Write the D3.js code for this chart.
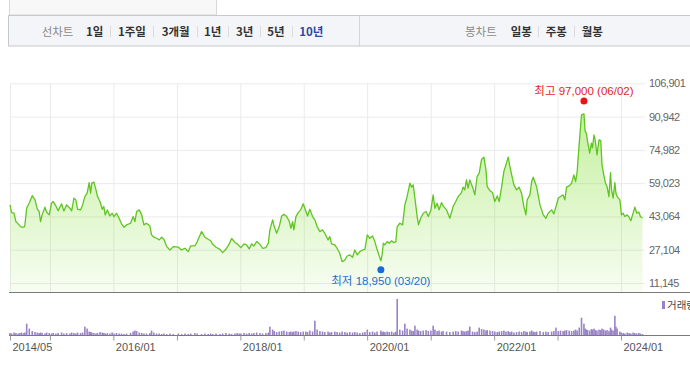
<!DOCTYPE html>
<html>
<head>
<meta charset="utf-8">
<script src="https://d3js.org/d3.v7.min.js"></script>
<style>
body { margin: 0; background: #fff; }
svg { display: block; font-family: "Liberation Sans", "Noto Sans CJK KR", sans-serif; }
</style>
</head>
<body>
<svg width="690" height="368"></svg>
<script>
// weekly-ish closes
var dates = [
  "2014-05-16","2014-05-25","2014-06-08","2014-06-19","2014-07-02","2014-07-12","2014-07-22","2014-08-04","2014-08-10","2014-08-20",
  "2014-09-04","2014-09-21","2014-10-07","2014-10-20","2014-10-31","2014-11-08","2014-11-17","2014-12-03","2014-12-13","2014-12-28",
  "2015-01-10","2015-01-20","2015-02-04","2015-02-17","2015-03-09","2015-03-22","2015-04-07","2015-04-26","2015-05-06","2015-05-19",
  "2015-05-30","2015-06-09","2015-06-26","2015-07-08","2015-07-21","2015-08-03","2015-08-15","2015-08-23","2015-08-30","2015-09-11",
  "2015-09-23","2015-10-02","2015-10-16","2015-10-29","2015-11-07","2015-11-15","2015-11-27","2015-12-12","2015-12-25",
  "2016-01-05","2016-01-19","2016-02-03","2016-02-17","2016-03-02","2016-03-17","2016-04-09","2016-04-24","2016-05-04","2016-05-14",
  "2016-05-29","2016-06-12","2016-06-25","2016-07-10","2016-07-29","2016-08-08","2016-08-21","2016-09-06","2016-09-21","2016-10-05",
  "2016-10-18","2016-11-03","2016-11-22","2016-12-11",
  "2017-01-09","2017-01-28","2017-02-16","2017-03-07","2017-03-21","2017-04-14","2017-04-28","2017-05-23","2017-06-11","2017-06-30",
  "2017-07-14","2017-07-26","2017-08-14","2017-09-06","2017-09-21","2017-10-10","2017-10-29","2017-11-12","2017-12-01","2017-12-14",
  "2017-12-26",
  "2018-01-04","2018-01-22","2018-02-06","2018-02-21","2018-03-07","2018-03-20","2018-04-05","2018-04-24","2018-05-09","2018-05-28",
  "2018-06-11","2018-06-20","2018-07-06","2018-07-15","2018-07-29","2018-08-13","2018-08-27","2018-09-09","2018-09-25","2018-10-10",
  "2018-10-19","2018-10-29","2018-11-05","2018-11-17","2018-11-30","2018-12-14","2018-12-29",
  "2019-01-13","2019-01-23","2019-02-05","2019-02-21","2019-03-06","2019-03-19","2019-04-04","2019-04-19","2019-05-02","2019-05-21",
  "2019-05-31","2019-06-10","2019-06-29","2019-07-12","2019-07-27","2019-08-10","2019-08-26","2019-09-08","2019-09-23","2019-10-09",
  "2019-10-22","2019-11-05","2019-11-20","2019-12-06","2019-12-19",
  "2020-01-02","2020-01-16","2020-02-01","2020-02-14","2020-02-27","2020-03-20","2020-03-27","2020-04-03","2020-04-12","2020-04-25",
  "2020-05-07","2020-05-21","2020-06-03","2020-06-14","2020-06-22","2020-07-07","2020-07-23","2020-08-05","2020-08-18","2020-09-03",
  "2020-09-13","2020-09-22","2020-10-02","2020-10-15","2020-10-23","2020-11-04","2020-11-19","2020-12-05","2020-12-18",
  "2021-01-02","2021-01-15","2021-01-25","2021-02-07","2021-02-18","2021-03-04","2021-03-13","2021-04-02","2021-04-21","2021-05-10",
  "2021-05-25","2021-06-08","2021-06-27","2021-07-06","2021-07-16","2021-07-26","2021-08-04","2021-08-14","2021-08-30","2021-09-12",
  "2021-09-25","2021-10-07","2021-10-21","2021-11-03","2021-11-15","2021-11-22","2021-12-08","2021-12-23",
  "2022-01-05","2022-01-19","2022-01-30","2022-02-13","2022-02-26","2022-03-10","2022-03-23","2022-04-02","2022-04-12","2022-04-25",
  "2022-05-10","2022-05-25","2022-06-08","2022-06-21","2022-07-03","2022-07-10","2022-07-26","2022-08-05","2022-08-14","2022-08-24",
  "2022-09-03","2022-09-22","2022-10-11","2022-10-26","2022-11-08","2022-11-28","2022-12-11","2022-12-23",
  "2023-01-05","2023-01-18","2023-02-02","2023-02-12","2023-02-22","2023-03-09","2023-03-23","2023-04-05","2023-04-15","2023-04-24",
  "2023-05-06","2023-05-19","2023-06-02","2023-06-09","2023-06-16","2023-06-23","2023-07-05","2023-07-15","2023-07-21","2023-07-30",
  "2023-08-07","2023-08-16","2023-08-28","2023-09-07","2023-09-14","2023-09-24","2023-10-04","2023-10-13","2023-10-24","2023-11-02",
  "2023-11-08","2023-11-17","2023-11-27","2023-12-03","2023-12-10","2023-12-26",
  "2024-01-04","2024-01-14","2024-01-23","2024-02-06","2024-02-17","2024-02-27","2024-03-11","2024-03-21","2024-04-01","2024-04-13",
  "2024-04-22","2024-05-04"
];

var prices = [
  // 2014
  48600,44900,44700,40600,39500,38500,37900,37900,39000,47100,
  49500,53000,51000,46700,45400,40600,43800,47500,45100,43800,
  // 2015
  49400,50200,48100,45800,49100,45700,48600,47000,45700,51800,
  51000,46500,46200,48600,52600,54200,59300,54200,59000,59500,
  55800,52600,50200,46500,47800,43800,46200,43300,44600,
  // 2016
  43000,44600,42200,39500,37900,39000,39800,43000,40600,45400,
  46200,43800,39000,39800,38500,34200,33100,32600,31800,33100,
  32100,28600,27000,28600,
  // 2017
  28300,27000,27800,26200,28900,28900,31000,35800,33100,32100,
  31400,29700,28300,27300,25700,27300,29900,32500,30600,29900,
  28900,
  // 2018
  28100,29900,29400,27500,29900,28900,31000,29700,27800,28100,
  30200,36600,41400,38200,35000,38200,43300,44100,43000,40600,
  37400,40600,36600,43000,44900,46200,49100,
  // 2019
  45700,43300,46500,43000,41400,38200,35800,36600,35000,31800,
  33400,29900,29400,27800,25400,21400,22200,24100,24600,23500,
  27000,24600,26200,27000,27300,
  // 2020
  34200,32600,33700,31000,27300,21800,24600,30200,29400,31000,
  30200,31400,30500,31000,38200,39800,39000,48600,52600,59000,
  57100,58200,51800,43000,39000,42200,44600,45400,43000,
  // 2021
  46200,53400,47000,49400,46200,49700,48100,46200,42200,47800,
  50200,52600,54500,57100,55800,60600,56600,60600,57100,53400,
  62200,63800,70500,71500,65400,57400,55400,54500,
  // 2022
  50200,52900,50200,57100,64600,67800,71500,67000,63000,58200,
  55800,57100,54200,47800,43800,51000,53400,59800,61900,59600,
  57100,48600,43800,42200,44600,46200,44300,47800,
  // 2023
  51800,52600,53400,51000,57100,57700,59000,63000,59800,64600,
  78200,91800,92300,83800,83000,79000,73400,78200,75900,82200,
  79000,72600,79800,79400,67800,63000,59000,57400,52600,64100,
  55800,51800,59300,54300,52600,51000,
  // 2024
  43800,44600,43000,43800,42700,41000,44600,47500,44600,45200,
  43000,42300
];

// volume, thousand shares
var volumes = [
  250,200,300,250,200,250,300,250,300,1200,700,450,350,300,250,300,250,200,300,250,
  200,250,200,250,300,200,250,200,300,250,200,300,250,300,900,700,400,350,300,250,200,250,350,300,250,200,250,200,300,
  200,250,200,200,150,200,250,400,500,450,300,250,200,200,250,500,300,200,200,150,200,150,200,150,
  200,150,200,150,200,250,200,150,200,150,200,150,200,150,200,250,200,150,200,250,200,
  200,250,200,250,200,250,300,250,200,250,300,900,600,450,350,400,450,500,400,350,400,350,400,450,400,350,400,
  400,350,500,400,1500,600,450,400,350,400,300,350,400,350,300,400,350,300,350,300,350,300,250,300,350,
  600,350,400,300,400,500,350,400,350,400,350,400,300,400,3700,600,500,1200,700,600,500,450,1000,600,500,450,500,550,450,
  500,1000,600,450,500,400,450,400,350,400,450,400,500,450,400,450,500,900,400,350,400,800,650,600,500,550,500,450,
  400,350,400,450,500,400,450,350,400,300,350,400,350,450,400,350,400,500,400,350,400,450,350,400,350,400,450,800,
  450,500,450,500,550,500,450,500,600,500,800,1800,1200,700,600,550,500,650,600,700,550,500,600,550,700,600,500,550,450,800,600,500,2000,900,700,400,
  300,250,200,300,250,200,300,250,200,250,200,150
];

var priceTicks = [11145, 27104, 43064, 59023, 74982, 90942, 106901];
var yearTicks = ["2015-01-01","2016-01-01","2017-01-01","2018-01-01","2019-01-01","2020-01-01","2021-01-01","2022-01-01","2023-01-01","2024-01-01"];
var xLabelDates = ["2014-05-16","2016-01-01","2018-01-01","2020-01-01","2022-01-01","2024-01-01"];
var xLabels = ["2014/05","2016/01","2018/01","2020/01","2022/01","2024/01"];
var highPoint = ["2023-06-02", 97000, "최고 97,000 (06/02)"];
var lowPoint = ["2020-03-20", 18950, "최저 18,950 (03/20)"];
var lineTabs = ["1일","1주일","3개월","1년","3년","5년","10년"];
var candleTabs = ["일봉","주봉","월봉"];

var svg = d3.select("svg"),
  width = +svg.attr("width"),
  height = +svg.attr("height");

var parseDate = d3.timeParse("%Y-%m-%d");
var data = dates.map(function(d, i) {
  return {date: parseDate(d), price: prices[i], volume: volumes[i] || 0};
});

// layout
var plotLeft = 10, plotRight = 643, gridRight = 645,
  plotTop = 83.3, priceBase = 292, volBase = 335.5, volTop = 299;

var x = d3.scaleTime()
  .domain([parseDate("2014-05-16"), parseDate("2024-05-07")])
  .range([plotLeft, plotRight]);
var y = d3.scaleLinear()
  .domain([11145, 106901])
  .range([283, plotTop]);
var yv = d3.scaleLinear()
  .domain([0, 3700])
  .range([volBase, volTop]);

// ---- top strip and toolbar
svg.append("rect")
  .attr("x", 9.5).attr("y", -1).attr("width", 207).attr("height", 16)
  .attr("fill", "#f8f8f8").attr("stroke", "#d8d8d8");

svg.append("rect")
  .attr("x", 8.5).attr("y", 15.5).attr("width", 700).attr("height", 30.5)
  .attr("fill", "#f4f5f8").attr("stroke", "#c8c8c8");
svg.append("line")
  .attr("x1", 359.5).attr("x2", 359.5).attr("y1", 16).attr("y2", 46)
  .attr("stroke", "#d4d4d4");

// tab positions in the toolbar (left edge of each word, separators between)
function drawTabs(title, titleX, tabs, tabX, sepX, activeIdx) {
  var g = svg.append("g")
    .style("font-family", "'Noto Sans CJK KR', sans-serif")
    .style("font-size", "11.5px");
  g.append("text")
    .attr("x", titleX).attr("y", 35.5)
    .attr("fill", "#8a8a8a")
    .text(title);
  g.selectAll(".tab")
    .data(tabs)
    .enter()
    .append("text")
    .attr("class", "tab")
    .attr("x", function(d, i) { return tabX[i]; })
    .attr("y", 35.5)
    .attr("fill", function(d, i) { return i === activeIdx ? "#2b48a6" : "#333"; })
    .style("font-weight", "bold")
    .text(function(d) { return d; });
  g.selectAll(".sep")
    .data(sepX)
    .enter()
    .append("line")
    .attr("x1", function(d) { return Math.round(d) + 0.5; })
    .attr("x2", function(d) { return Math.round(d) + 0.5; })
    .attr("y1", 26).attr("y2", 37)
    .attr("stroke", "#dcdcdc");
}
drawTabs("선차트", 41.7, lineTabs,
  [86, 118, 161.7, 204, 236, 267.3, 299.3],
  [110, 153.3, 196.7, 228.3, 260, 291.7], lineTabs.length - 1);
drawTabs("봉차트", 465, candleTabs, [510.7, 545.7, 581.7], [538.3, 574.3], -1);

// ---- gradient for the area
var grad = svg.append("defs").append("linearGradient")
  .attr("id", "areaFill")
  .attr("gradientUnits", "userSpaceOnUse")
  .attr("x1", 0).attr("x2", 0)
  .attr("y1", plotTop).attr("y2", priceBase);
grad.append("stop").attr("offset", 0).attr("stop-color", "#64d700").attr("stop-opacity", 0.43);
grad.append("stop").attr("offset", 1).attr("stop-color", "#64d700").attr("stop-opacity", 0.05);

// ---- grid
var gridDates = [x.domain()[0]].concat(yearTicks.map(parseDate));

svg.append("g")
  .attr("transform", "translate(" + plotLeft + ",0)")
  .call(d3.axisLeft(y).tickValues(priceTicks).tickSize(-(gridRight - plotLeft)).tickFormat(""))
  .call(function(g) { g.select(".domain").remove(); })
  .selectAll("line").attr("stroke", "#ebebeb");

svg.append("g")
  .attr("transform", "translate(0," + priceBase + ")")
  .call(d3.axisBottom(x).tickValues(gridDates).tickSize(-(priceBase - plotTop)).tickFormat(""))
  .call(function(g) { g.select(".domain").remove(); })
  .selectAll("line").attr("stroke", "#ebebeb");

// ---- price area + line
svg.append("path")
  .datum(data)
  .attr("fill", "url(#areaFill)")
  .attr("d", d3.area()
    .x(function(d) { return x(d.date); })
    .y0(priceBase)
    .y1(function(d) { return y(d.price); }));

svg.append("path")
  .datum(data)
  .attr("fill", "none")
  .attr("stroke", "#5fc521")
  .attr("stroke-width", 1.3)
  .attr("stroke-linejoin", "round")
  .attr("d", d3.line()
    .x(function(d) { return x(d.date); })
    .y(function(d) { return y(d.price); }));

// price labels on the right
svg.append("g")
  .attr("transform", "translate(" + gridRight + ",0)")
  .call(d3.axisRight(y).tickValues(priceTicks).tickSize(0).tickPadding(4).tickFormat(d3.format(",")))
  .call(function(g) { g.select(".domain").remove(); })
  .selectAll("text")
  .attr("fill", "#666")
  .style("font-size", "11px")
  .style("letter-spacing", "-0.5px")
  .style("font-family", "'Liberation Sans', sans-serif");

// high / low markers
svg.append("circle")
  .attr("cx", x(parseDate(highPoint[0]))).attr("cy", y(highPoint[1]) - 3)
  .attr("r", 3.5).attr("fill", "#ee1111");
svg.append("text")
  .attr("x", x(parseDate(highPoint[0]))).attr("y", y(highPoint[1]) - 9)
  .attr("text-anchor", "middle").attr("fill", "#e61e1e")
  .style("font-size", "11.5px")
  .text(highPoint[2]);

svg.append("circle")
  .attr("cx", x(parseDate(lowPoint[0]))).attr("cy", y(lowPoint[1]) + 3)
  .attr("r", 3.5).attr("fill", "#1c6ad6");
svg.append("text")
  .attr("x", x(parseDate(lowPoint[0]))).attr("y", y(lowPoint[1]) + 18)
  .attr("text-anchor", "middle").attr("fill", "#1f6fd1")
  .style("font-size", "11.5px")
  .text(lowPoint[2]);

// ---- volume bars
svg.append("g")
  .selectAll("rect")
  .data(data)
  .enter()
  .append("rect")
  .attr("x", function(d) { return x(d.date) - 0.8; })
  .attr("width", 1.6)
  .attr("y", function(d) { return yv(d.volume); })
  .attr("height", function(d) { return volBase - yv(d.volume); })
  .attr("fill", "#9a82c8");

// volume legend (runs off the right edge like the original)
svg.append("rect")
  .attr("x", 662).attr("y", 301).attr("width", 3).attr("height", 8)
  .attr("fill", "#9a82c8");
svg.append("text")
  .attr("x", 667).attr("y", 308.5)
  .attr("fill", "#444")
  .style("font-size", "10.5px")
  .text("거래량");

// ---- axis lines
svg.append("line")
  .attr("x1", 9).attr("x2", width).attr("y1", priceBase + 0.5).attr("y2", priceBase + 0.5)
  .attr("stroke", "#7a7a7a");
svg.append("line")
  .attr("x1", 9).attr("x2", width).attr("y1", volBase).attr("y2", volBase)
  .attr("stroke", "#7a7a7a");

// date ticks and labels
var xAxis = svg.append("g")
  .attr("transform", "translate(0," + volBase + ")")
  .call(d3.axisBottom(x).tickValues(gridDates).tickSize(5).tickPadding(3)
    .tickFormat(function(d) {
      var i = xLabelDates.indexOf(d3.timeFormat("%Y-%m-%d")(d));
      return i >= 0 ? xLabels[i] : "";
    }))
  .call(function(g) { g.select(".domain").remove(); });
xAxis.selectAll("line").attr("stroke", "#999");
xAxis.selectAll("text")
  .attr("text-anchor", "start")
  .attr("x", 2)
  .attr("fill", "#555")
  .style("font-size", "11px")
  .style("font-family", "'Liberation Sans', sans-serif");
</script>
</body>
</html>
